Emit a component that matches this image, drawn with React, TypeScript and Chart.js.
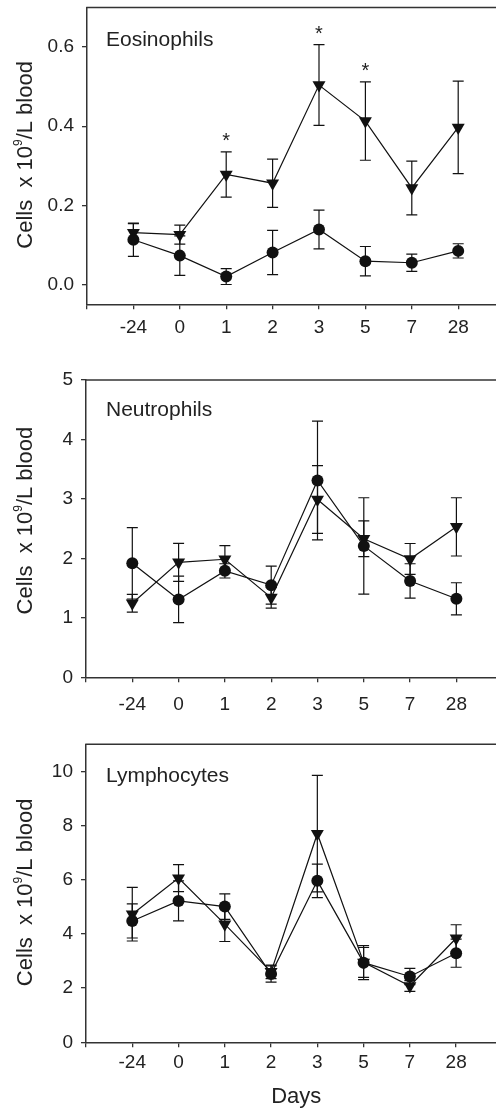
import React, { useEffect, useRef } from 'react';
import { Chart, registerables } from 'chart.js';

Chart.register(...registerables);

// ---------- data ----------
const days = ['-24', '0', '1', '2', '3', '5', '7', '28'];

const eosCircle = [0.113, 0.073, 0.020, 0.081, 0.139, 0.059, 0.055, 0.085];
const eosCircleErr = [0.042, 0.050, 0.020, 0.056, 0.049, 0.037, 0.022, 0.018];
const eosTriangle = [0.131, 0.126, 0.278, 0.256, 0.504, 0.413, 0.244, 0.397];
const eosTriangleErr = [0.023, 0.024, 0.057, 0.061, 0.102, 0.099, 0.068, 0.117];
const eosSignificant = [false, false, true, false, true, true, false, false];
const eosTicks = [0, 0.2, 0.4, 0.6];

const neuCircle = [1.917, 1.31, 1.79, 1.55, 3.31, 2.21, 1.62, 1.32];
const neuCircleErr = [0.60, 0.39, 0.12, 0.32, 1.00, 0.81, 0.29, 0.27];
const neuTriangle = [1.245, 1.934, 1.985, 1.34, 2.99, 2.33, 1.99, 2.53];
const neuTriangleErr = [0.15, 0.32, 0.23, 0.175, 0.57, 0.30, 0.26, 0.49];
const neuSignificant = [false, false, false, false, false, false, false, false];
const neuTicks = [0, 1, 2, 3, 4, 5];

const lymCircle = [4.48, 5.22, 5.01, 2.52, 5.96, 2.94, 2.43, 3.29];
const lymCircleErr = [0.63, 0.74, 0.47, 0.30, 0.62, 0.63, 0.30, 0.52];
const lymTriangle = [4.73, 6.06, 4.36, 2.60, 7.70, 2.95, 2.08, 3.84];
const lymTriangleErr = [0.99, 0.50, 0.64, 0.25, 2.15, 0.55, 0.20, 0.50];
const lymSignificant = [false, false, false, false, false, false, false, false];
const lymTicks = [0, 2, 4, 6, 8, 10];

const yTitleMain1 = 'Cells  x 10';
const yTitleSup = '9';
const yTitleMain2 = '/L blood';
const xTitle = 'Days';

// ---------- layout / style ----------
const FONT = "'Liberation Sans', Arial, Helvetica, sans-serif";
const INK = '#111';
const AXIS = '#333';
const TEXT = '#222';
const CANVAS_W = 520;

type Panel = {
  top: number; height: number; padTop: number; left: number; right: number;
  xAxisHeight: number; yMin: number; yMax: number; ticks: number[]; decimals: number;
  label: string; labelBase: number; titleShift: number; xTickPad: number;
  circle: number[]; circleErr: number[]; tri: number[]; triErr: number[]; sig: boolean[];
  showDays: boolean;
};

const panels: Panel[] = [
  {
    top: 0, height: 350, padTop: 6, left: 87, right: 504.6, xAxisHeight: 45.7,
    yMin: -0.05, yMax: 0.70, ticks: eosTicks, decimals: 1,
    label: 'Eosinophils', labelBase: 38, titleShift: -1, xTickPad: 7.4,
    circle: eosCircle, circleErr: eosCircleErr, tri: eosTriangle, triErr: eosTriangleErr, sig: eosSignificant,
    showDays: false,
  },
  {
    top: 350, height: 370, padTop: 30, left: 86, right: 502.7, xAxisHeight: 42.7,
    yMin: 0, yMax: 5, ticks: neuTicks, decimals: 0,
    label: 'Neutrophils', labelBase: 35.7, titleShift: -8, xTickPad: 10.8,
    circle: neuCircle, circleErr: neuCircleErr, tri: neuTriangle, triErr: neuTriangleErr, sig: neuSignificant,
    showDays: false,
  },
  {
    top: 720, height: 388, padTop: 24.3, left: 86, right: 502.4, xAxisHeight: 65.7,
    yMin: 0, yMax: 11, ticks: lymTicks, decimals: 0,
    label: 'Lymphocytes', labelBase: 37.4, titleShift: -1, xTickPad: 4.1,
    circle: lymCircle, circleErr: lymCircleErr, tri: lymTriangle, triErr: lymTriangleErr, sig: lymSignificant,
    showDays: true,
  },
];

function panelPlugin(p: Panel) {
  return {
    id: 'panelDecor',
    beforeDatasetsDraw(chart: any) {
      const { ctx, scales } = chart;
      const xs = scales.x, ys = scales.y;
      ctx.save();
      ctx.strokeStyle = INK;
      ctx.lineWidth = 1.2;
      chart.data.datasets.forEach((ds: any) => {
        ds.data.forEach((pt: any, i: number) => {
          const e = ds.errors[i];
          const px = xs.getPixelForValue(pt.x);
          const yt = ys.getPixelForValue(pt.y + e);
          const yb = ys.getPixelForValue(pt.y - e);
          ctx.beginPath();
          ctx.moveTo(px, yt); ctx.lineTo(px, yb);
          ctx.moveTo(px - 5.5, yt); ctx.lineTo(px + 5.5, yt);
          ctx.moveTo(px - 5.5, yb); ctx.lineTo(px + 5.5, yb);
          ctx.stroke();
        });
      });
      ctx.restore();
    },
    afterDraw(chart: any) {
      const { ctx, chartArea, scales } = chart;
      const xs = scales.x, ys = scales.y;
      ctx.save();
      // top frame line
      ctx.strokeStyle = AXIS;
      ctx.lineWidth = 1.5;
      ctx.beginPath();
      ctx.moveTo(chartArea.left - 0.75, chartArea.top);
      ctx.lineTo(chart.width, chartArea.top);
      ctx.stroke();

      // significance asterisks
      ctx.fillStyle = TEXT;
      ctx.font = `20px ${FONT}`;
      ctx.textAlign = 'center';
      ctx.textBaseline = 'alphabetic';
      chart.data.datasets.forEach((ds: any) => {
        if (!ds.significant) return;
        ds.data.forEach((pt: any, i: number) => {
          if (!ds.significant[i]) return;
          const px = xs.getPixelForValue(pt.x);
          const yc = ys.getPixelForValue(pt.y + ds.errors[i]) - 16.5;
          ctx.fillText('*', px, yc + 11.5);
        });
      });

      // panel label
      ctx.font = `21px ${FONT}`;
      ctx.textAlign = 'left';
      ctx.fillText(p.label, 106, chartArea.top + p.labelBase);

      // y title with superscript
      const cy = (chartArea.top + chartArea.bottom) / 2 + p.titleShift;
      ctx.translate(31.7, cy);
      ctx.rotate(-Math.PI / 2);
      ctx.font = `22px ${FONT}`;
      const w1 = ctx.measureText(yTitleMain1).width;
      const w3 = ctx.measureText(yTitleMain2).width;
      ctx.font = `12px ${FONT}`;
      const w2 = ctx.measureText(yTitleSup).width;
      let x0 = -(w1 + w2 + w3) / 2;
      ctx.font = `22px ${FONT}`;
      ctx.fillText(yTitleMain1, x0, 0);
      x0 += w1;
      ctx.font = `12px ${FONT}`;
      ctx.fillText(yTitleSup, x0, -9.7);
      x0 += w2;
      ctx.font = `22px ${FONT}`;
      ctx.fillText(yTitleMain2, x0, 0);
      ctx.setTransform(1, 0, 0, 1, 0, 0);
      ctx.restore();

      if (p.showDays) {
        ctx.save();
        ctx.fillStyle = TEXT;
        ctx.font = `22px ${FONT}`;
        ctx.textAlign = 'center';
        ctx.textBaseline = 'alphabetic';
        ctx.fillText(xTitle, xs.getPixelForValue(3.5) + 2, chartArea.bottom + 60.7);
        ctx.restore();
      }
    },
  };
}

function makeConfig(p: Panel): any {
  const tickFont = { family: FONT, size: 19 };
  const gridOpts = { drawOnChartArea: false, drawTicks: true, tickLength: 5, color: AXIS, lineWidth: 1.3 };
  const borderOpts = { display: true, color: AXIS, width: 1.5 };
  return {
    type: 'line',
    data: {
      datasets: [
        {
          label: 'circle',
          data: days.map((_, i) => ({ x: i, y: p.circle[i] })),
          errors: p.circleErr,
          borderColor: INK, backgroundColor: INK, borderWidth: 1.2,
          pointStyle: 'circle', pointRadius: 6, pointBorderWidth: 0,
          pointBackgroundColor: INK, tension: 0, clip: false,
        },
        {
          label: 'triangle',
          data: days.map((_, i) => ({ x: i, y: p.tri[i] })),
          errors: p.triErr,
          significant: p.sig,
          borderColor: INK, backgroundColor: INK, borderWidth: 1.2,
          pointStyle: 'triangle', pointRotation: 180, pointRadius: 7.5, pointBorderWidth: 0,
          pointBackgroundColor: INK, tension: 0, clip: false,
        },
      ],
    },
    options: {
      responsive: false,
      animation: false,
      devicePixelRatio: 1,
      layout: { padding: { top: p.padTop, left: 0, right: CANVAS_W - p.right, bottom: 0 } },
      plugins: { legend: { display: false }, tooltip: { enabled: false } },
      scales: {
        x: {
          type: 'linear', min: -1, max: 8,
          ticks: {
            stepSize: 1, autoSkip: false, maxRotation: 0, padding: p.xTickPad,
            font: tickFont, color: TEXT,
            callback: (v: any) => days[Number(v)] ?? '',
          },
          grid: gridOpts, border: borderOpts,
          afterFit: (s: any) => { s.height = p.xAxisHeight; s.paddingLeft = 0; s.paddingRight = 0; },
        },
        y: {
          type: 'linear', min: p.yMin, max: p.yMax,
          afterBuildTicks: (s: any) => { s.ticks = p.ticks.map((v) => ({ value: v })); },
          ticks: {
            padding: 8, font: tickFont, color: TEXT,
            callback: (v: any) => Number(v).toFixed(p.decimals),
          },
          grid: gridOpts, border: borderOpts,
          afterFit: (s: any) => { s.width = p.left; s.paddingTop = 0; s.paddingBottom = 0; },
        },
      },
    },
    plugins: [panelPlugin(p)],
  };
}

function PanelChart({ p }: { p: Panel }) {
  const ref = useRef<HTMLCanvasElement | null>(null);
  useEffect(() => {
    if (!ref.current) return;
    const chart = new Chart(ref.current, makeConfig(p));
    return () => chart.destroy();
  }, [p]);
  return (
    <canvas
      ref={ref}
      width={CANVAS_W}
      height={p.height}
      style={{ position: 'absolute', left: 0, top: p.top, width: CANVAS_W, height: p.height }}
    />
  );
}

export default function App() {
  return (
    <div
      style={{
        position: 'absolute', left: 0, top: 0, width: 496, height: 1108,
        overflow: 'hidden', background: '#fff',
      }}
    >
      {panels.map((p, i) => (
        <PanelChart key={i} p={p} />
      ))}
    </div>
  );
}
